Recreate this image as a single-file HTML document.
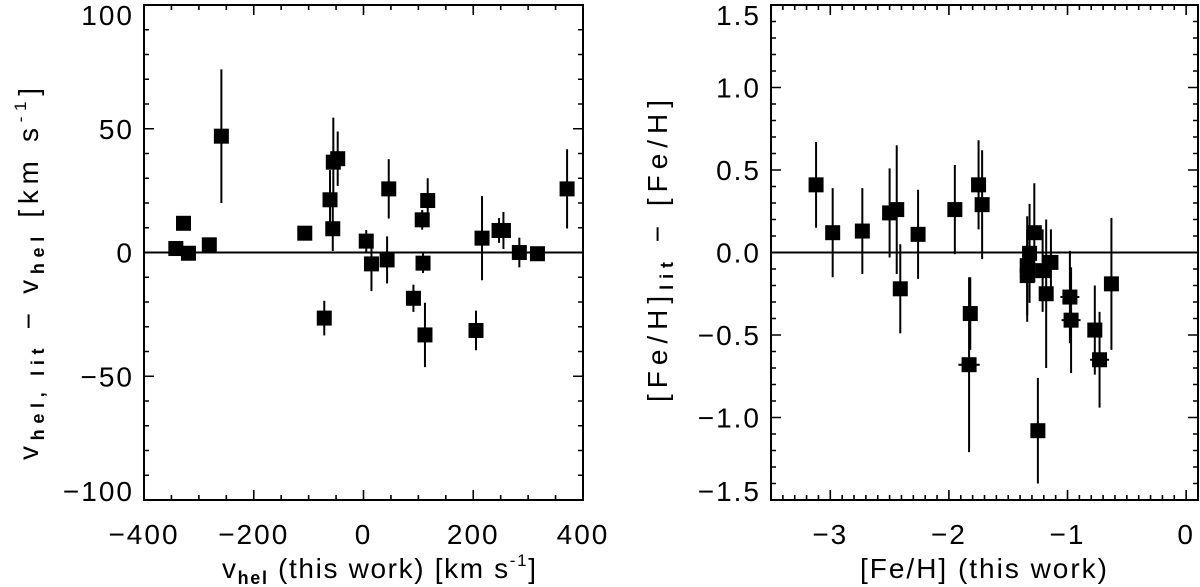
<!DOCTYPE html>
<html><head><meta charset="utf-8"><style>
html,body{margin:0;padding:0;background:#fff;}
svg{display:block;font-family:"Liberation Sans",sans-serif;}
</style></head><body>
<svg id="chart" width="1200" height="587" viewBox="0 0 1200 587" xmlns="http://www.w3.org/2000/svg">
<g id="p1"></g>
<g id="p2"></g>
<text x="222" y="578" font-size="28" textLength="314" lengthAdjust="spacing">v<tspan font-size="18" dy="6" font-weight="bold">hel</tspan><tspan dy="-6"> (this work) [km s</tspan><tspan font-size="17" dy="-12">-1</tspan><tspan dy="12">]</tspan></text>
<text transform="translate(38,460) rotate(-90)" font-size="28" textLength="372" lengthAdjust="spacing">v<tspan font-size="18" dy="6" font-weight="bold">hel, lit</tspan><tspan dy="-6">  −  v</tspan><tspan font-size="18" dy="6" font-weight="bold">hel</tspan><tspan dy="-6">  [km s</tspan><tspan font-size="17" dy="-12">-1</tspan><tspan dy="12">]</tspan></text>
<text x="860" y="578" font-size="28" textLength="247" lengthAdjust="spacing">[Fe/H] (this work)</text>
<text transform="translate(667,402) rotate(-90)" font-size="28" textLength="302" lengthAdjust="spacing">[Fe/H]<tspan font-size="18" dy="6" font-weight="bold">lit</tspan><tspan dy="-6">  −  [Fe/H]</tspan></text>
</svg>
<script>
// Left panel data
const vX = [-342,-328,-319,-281,-259,-107,-71.5,-61,-56,-55,-47,5,14.5,43,46,91,107,108.5,112,117,205,216,247,255,284,317,371];
const vY = [1.6,11.8,-0.3,3.1,47,7.8,-26.5,21.3,9.6,36.5,37.9,4.6,-4.6,-3,25.7,-18.5,13.2,-4.3,-33.3,21,-31.5,5.8,8.9,8.9,0,-0.5,25.7];
const vErr = [1,1,1,1,27,1,7,12,9,18,11,4.5,11,9.5,12,5.5,4,4,13,9,8,17,5,7.5,6,1,16];
const vXTicks = [-400,-200,0,200,400];
const vYTicks = [-100,-50,0,50,100];
// Right panel data
const fX = [-3.12,-2.98,-2.73,-2.50,-2.44,-2.41,-2.26,-1.95,-1.82,-1.83,-1.75,-1.72,-1.28,-1.32,-1.34,-1.34,-1.21,-1.14,-1.18,-1.25,-0.98,-0.97,-0.77,-0.73,-0.63];
const fY = [0.41,0.12,0.13,0.24,0.26,-0.22,0.11,0.26,-0.37,-0.68,0.41,0.29,0.12,-0.005,-0.08,-0.14,-0.11,-0.06,-0.25,-1.08,-0.27,-0.41,-0.47,-0.65,-0.19];
const fErr = [0.26,0.27,0.26,0.27,0.39,0.27,0.27,0.27,0.22,0.53,0.27,0.33,0.3,0.3,0.3,0.28,0.25,0.2,0.45,0.32,0.28,0.32,0.27,0.29,0.4];
const fXErr = [0,0,0,0.05,0.05,0.05,0.05,0.03,0.05,0.09,0.05,0.06,0.05,0.05,0.05,0.05,0.05,0.05,0.05,0.05,0.08,0.08,0.06,0.08,0.06];
const fXTicks = [-3,-2,-1,0];
const fYTicks = ["-1.5","-1.0","-0.5","0.0","0.5","1.0","1.5"];

const NS="http://www.w3.org/2000/svg";
function mk(parent,tag,attrs){const e=document.createElementNS(NS,tag);for(const k in attrs)e.setAttribute(k,attrs[k]);parent.appendChild(e);return e;}
function fmt(s){return String(s).replace('-','\u2212');}

function panel(g,box,xr,yr,xMajor,xMinor,yMajor,yMinor,xTicks,yTicks,xs,ys,es,xes,pre){
  const X=v=>box.l+(v-xr[0])/(xr[1]-xr[0])*(box.r-box.l);
  const Y=v=>box.b-(v-yr[0])/(yr[1]-yr[0])*(box.b-box.t);
  let f=mk(g,'rect',{x:box.l,y:box.t,width:box.r-box.l,height:box.b-box.t,fill:'none',stroke:'#000','stroke-width':2});
  
  
  const eps=1e-6;
  for(let v=Math.ceil((xr[0]-eps)/xMinor)*xMinor; v<=xr[1]+eps; v+=xMinor){
    const maj=Math.abs(v/xMajor-Math.round(v/xMajor))<1e-4; const L=maj?10:5; const x=X(v);
    const t=mk(g,'path',{d:`M${x},${box.b}v${-L}M${x},${box.t}v${L}`,stroke:'#000','stroke-width':1.6});
    
    
  }
  for(let v=Math.ceil((yr[0]-eps)/yMinor)*yMinor; v<=yr[1]+eps; v+=yMinor){
    const maj=Math.abs(v/yMajor-Math.round(v/yMajor))<1e-4; const L=maj?10:5; const y=Y(v);
    const t=mk(g,'path',{d:`M${box.l},${y}h${L}M${box.r},${y}h${-L}`,stroke:'#000','stroke-width':1.6});
    
    
  }
  xTicks.forEach(v=>{const t=mk(g,'text',{x:X(+v),y:box.b+44,'text-anchor':'middle','font-size':28,'letter-spacing':2});t.textContent=fmt(v);
    
    });
  yTicks.forEach(v=>{let by=Y(+v)+10; by=Math.max(by,box.t+20); by=Math.min(by,box.b+1);
    const t=mk(g,'text',{x:box.l-10,y:by,'text-anchor':'end','font-size':28,'letter-spacing':2});t.textContent=fmt(v);
    
    });
  const z=mk(g,'line',{x1:box.l,x2:box.r,y1:Y(0),y2:Y(0),stroke:'#000','stroke-width':2});
  
  
  xs.forEach((xv,i)=>{
    const x=X(xv),y=Y(ys[i]);
    const eb=mk(g,'line',{x1:x,x2:x,y1:Y(ys[i]-es[i]),y2:Y(ys[i]+es[i]),stroke:'#000','stroke-width':2});
    
    
    if(xes&&xes[i]>0){const hb=mk(g,'line',{x1:X(xv-xes[i]),x2:X(xv+xes[i]),y1:y,y2:y,stroke:'#000','stroke-width':2});
      
      }
    const p=mk(g,'rect',{x:x-7.5,y:y-7.5,width:15,height:15,fill:'#000'});
    
    
  });
}
panel(document.getElementById('p1'),{l:144,r:583,t:5,b:500},[-400,400],[-100,100],200,50,50,10,vXTicks,vYTicks,vX,vY,vErr,null,'velocity');
panel(document.getElementById('p2'),{l:771,r:1198,t:5,b:500},[-3.5,0.1],[-1.5,1.5],1,0.1,0.5,0.1,fXTicks,fYTicks,fX,fY,fErr,fXErr,'metallicity');
</script>
</body></html>
